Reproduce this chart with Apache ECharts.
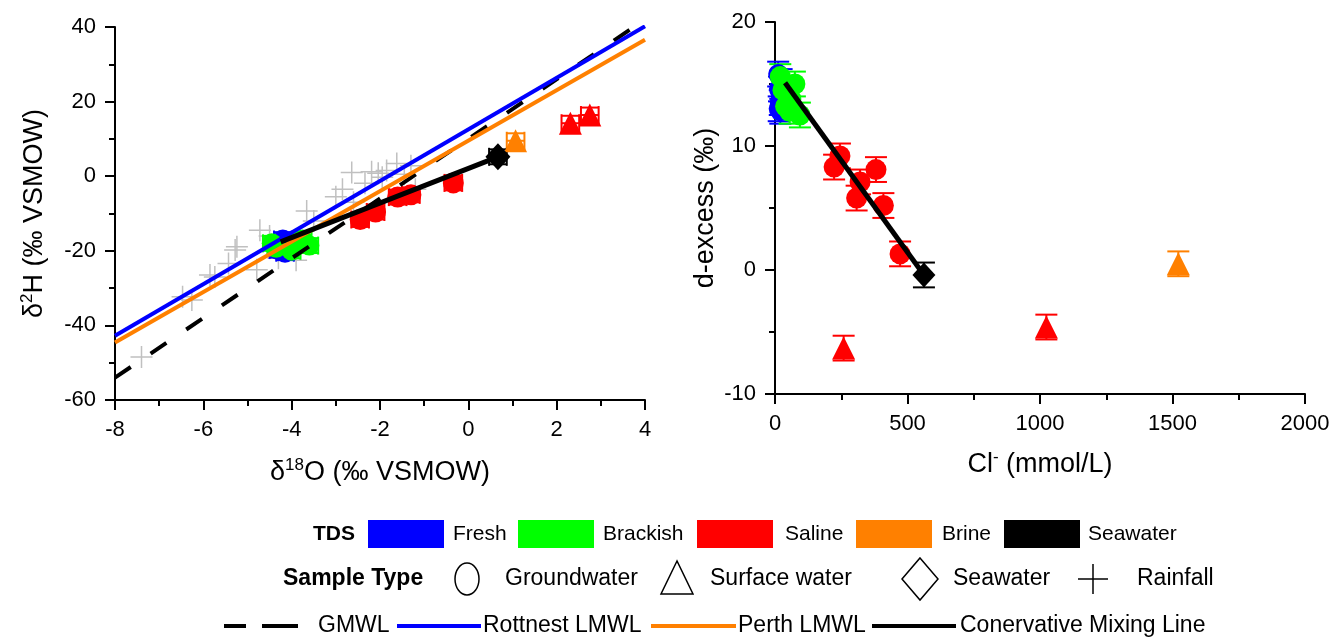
<!DOCTYPE html>
<html>
<head>
<meta charset="utf-8">
<script src="https://cdn.jsdelivr.net/npm/echarts@6.0.0/dist/echarts.min.js"></script>
<style>
  html, body { margin: 0; padding: 0; background: #fff; }
  #main { width: 1333px; height: 638px; }
</style>
</head>
<body>
<div id="main"></div>
<script>
// ---- left panel: [d18O, d2H] ----
var leftFresh = [[-4.25, -18.5], [-4.15, -20.5], [-4.05, -19], [-4.2, -17], [-4.3, -19.8]];
var leftBrackish = [[-4.45, -18], [-4.35, -19.2], [-3.9, -18], [-3.75, -17], [-3.6, -18.6], [-4.0, -20]];
var leftSalineGW = [[-2.45, -11.6], [-2.1, -9.6], [-1.6, -5.6], [-1.3, -5.0], [-0.34, -1.8]];
var leftSalineSW = [[2.31, 14.2], [2.75, 16.4]];
var leftBrineSW = [[1.07, 9.5]];
var leftSeawater = [[0.67, 5.2]];
var leftRain = [
  [-7.4, -48.5], [-6.47, -32.3], [-6.26, -33.2], [-5.85, -26.5], [-5.74, -27], [-5.43, -23.4],
  [-5.28, -19.8], [-5.24, -18.9], [-4.79, -25.1], [-4.72, -14.5], [-4.5, -16], [-4.3, -22],
  [-3.9, -22.5], [-3.66, -9.3], [-3.5, -12], [-3.0, -5.5], [-2.85, -3.5], [-2.64, 1.0],
  [-2.34, -1.9], [-2.19, 1.2], [-2.04, 0.8], [-1.95, -0.3], [-1.85, 1.5], [-1.62, 3.4],
  [-1.45, 0.5], [-1.3, 2.8], [-1.2, -3.5], [-2.6, -7]
];
var gmwl = [[-8, -54], [3.75, 40]];
var rottnestLmwl = [[-8, -42.8], [4, 40.2]];
var perthLmwl = [[-8, -44.6], [4, 36.6]];
var mixLeft = [[-4.25, -17.6], [0.67, 5.2]];
var leftErr = [0.2, 2];   // +/- d18O, +/- d2H

// ---- right panel: [Cl, d-excess] ----
var rightFresh = [[12, 15.8], [15, 14.6], [18, 13.5], [20, 12.8], [25, 15.2], [22, 14.0], [14, 13.0]];
var rightBrackish = [[30, 14.5], [40, 13.2], [55, 12.8], [20, 15.6], [75, 15.0], [94, 12.5], [60, 13.8]];
var rightSalineGW = [[223, 8.3], [245, 9.2], [308, 5.8], [321, 7.1], [381, 8.1], [409, 5.2], [472, 1.3]];
var rightSalineSW = [[259, -6.3], [1024, -4.6]];
var rightBrineSW = [[1522, 0.5]];
var rightSeawater = [[562, -0.4]];
var mixRight = [[38, 15.1], [562, -0.4]];
var rightErr = [0, 1];

var FONT = '"Liberation Sans", Arial, sans-serif';
var C = { fresh: '#0000ff', brackish: '#00ff00', saline: '#ff0000', brine: '#ff8000', sea: '#000000', rain: '#c0c0c0' };

function withErr(arr, err) {
  return arr.map(function (p) { return [p[0], p[1], err[0], err[1]]; });
}

function errRender(color, cap) {
  return function (params, api) {
    var x = api.value(0), y = api.value(1), ex = api.value(2), ey = api.value(3);
    var st = { stroke: color, lineWidth: 2 };
    var kids = [];
    if (ey) {
      var a = api.coord([x, y - ey]), b = api.coord([x, y + ey]);
      kids.push({ type: 'line', shape: { x1: a[0], y1: a[1], x2: b[0], y2: b[1] }, style: st });
      kids.push({ type: 'line', shape: { x1: a[0] - cap, y1: a[1], x2: a[0] + cap, y2: a[1] }, style: st });
      kids.push({ type: 'line', shape: { x1: b[0] - cap, y1: b[1], x2: b[0] + cap, y2: b[1] }, style: st });
    }
    if (ex) {
      var l = api.coord([x - ex, y]), r = api.coord([x + ex, y]);
      kids.push({ type: 'line', shape: { x1: l[0], y1: l[1], x2: r[0], y2: r[1] }, style: st });
      kids.push({ type: 'line', shape: { x1: l[0], y1: l[1] - cap, x2: l[0], y2: l[1] + cap }, style: st });
      kids.push({ type: 'line', shape: { x1: r[0], y1: r[1] - cap, x2: r[0], y2: r[1] + cap }, style: st });
    }
    return { type: 'group', children: kids };
  };
}

function errSeries(idx, arr, err, color, cap) {
  return {
    type: 'custom', xAxisIndex: idx, yAxisIndex: idx, z: 3,
    renderItem: errRender(color, cap), encode: { x: 0, y: 1 },
    data: withErr(arr, err), silent: true
  };
}

function pts(idx, arr, symbol, size, color, z) {
  return {
    type: 'scatter', xAxisIndex: idx, yAxisIndex: idx, symbol: symbol, symbolSize: size,
    itemStyle: { color: color, opacity: 1 }, data: arr, z: z || 4, silent: true
  };
}

function line(idx, arr, color, width, dash, z) {
  return {
    type: 'line', xAxisIndex: idx, yAxisIndex: idx, data: arr, showSymbol: false, symbol: 'none',
    lineStyle: { color: color, width: width, type: dash || 'solid' }, z: z || 5, silent: true
  };
}

var plusPath = 'path://M-0.75,-11h1.5v22h-1.5z M-11,-0.75h22v1.5h-22z';

function axisCommon() {
  return {
    type: 'value',
    axisLine: { show: true, onZero: false, lineStyle: { color: '#000', width: 2 } },
    axisTick: { show: true, length: 10, lineStyle: { color: '#000', width: 2 } },
    minorTick: { show: true, splitNumber: 2, length: 6, lineStyle: { color: '#000', width: 2 } },
    splitLine: { show: false },
    minorSplitLine: { show: false },
    axisLabel: { color: '#000', fontSize: 22, fontFamily: FONT, margin: 19,
      formatter: function (v) { return String(v); } },
    nameLocation: 'middle',
    nameTextStyle: {
      color: '#000', fontFamily: FONT, fontSize: 27,
      rich: {
        a: { fontSize: 27, fontFamily: FONT, color: '#000', lineHeight: 32 },
        s: { fontSize: 17, fontFamily: FONT, color: '#000', lineHeight: 17, verticalAlign: 'top' }
      }
    }
  };
}

function ax(extra) { return Object.assign(axisCommon(), extra); }

var series = [
  // left panel
  pts(0, leftRain, plusPath, 22, C.rain, 2),
  errSeries(0, leftFresh, leftErr, C.fresh, 9),
  pts(0, leftFresh, 'circle', 20, C.fresh),
  errSeries(0, leftBrackish, leftErr, C.brackish, 9),
  pts(0, leftBrackish, 'circle', 20, C.brackish),
  errSeries(0, leftSalineGW, leftErr, C.saline, 9),
  pts(0, leftSalineGW, 'circle', 21, C.saline),
  line(0, gmwl, '#000', 4, [19, 24], 5),
  line(0, rottnestLmwl, C.fresh, 4),
  line(0, perthLmwl, C.brine, 4),
  line(0, mixLeft, '#000', 5, 'solid', 6),
  errSeries(0, leftSalineSW, leftErr, C.saline, 9),
  pts(0, leftSalineSW, 'triangle', 23, C.saline, 7),
  errSeries(0, leftBrineSW, leftErr, C.brine, 9),
  pts(0, leftBrineSW, 'triangle', 23, C.brine, 7),
  errSeries(0, leftSeawater, leftErr, C.sea, 9),
  pts(0, leftSeawater, 'diamond', [25, 27], C.sea, 7),
  // right panel
  errSeries(1, rightFresh, rightErr, C.fresh, 11),
  pts(1, rightFresh, 'circle', 20, C.fresh),
  errSeries(1, rightBrackish, rightErr, C.brackish, 11),
  pts(1, rightBrackish, 'circle', 21, C.brackish),
  errSeries(1, rightSalineGW, rightErr, C.saline, 11),
  pts(1, rightSalineGW, 'circle', 21, C.saline),
  line(1, mixRight, '#000', 5, 'solid', 6),
  errSeries(1, rightSalineSW, rightErr, C.saline, 11),
  pts(1, rightSalineSW, 'triangle', 23, C.saline, 7),
  errSeries(1, rightBrineSW, rightErr, C.brine, 11),
  pts(1, rightBrineSW, 'triangle', 23, C.brine, 7),
  errSeries(1, rightSeawater, rightErr, C.sea, 11),
  pts(1, rightSeawater, 'diamond', [23, 25], C.sea, 7)
];

// ---- legend (drawn) ----
function txt(x, y, s, bold, size) {
  return { type: 'text', x: x, y: y, silent: true,
    style: { text: s, fill: '#000', font: (bold ? 'bold ' : '') + (size || 23) + 'px ' + FONT, verticalAlign: 'middle', align: 'left' } };
}
function rect(x, y, color) {
  return { type: 'rect', silent: true, shape: { x: x, y: y - 14, width: 76, height: 28 }, style: { fill: color } };
}
function hline(x1, x2, y, color) {
  return { type: 'line', silent: true, shape: { x1: x1, y1: y, x2: x2, y2: y }, style: { stroke: color, lineWidth: 4 } };
}
var r1 = 534, r2 = 579, r3 = 626;
var outline = { fill: 'none', stroke: '#000', lineWidth: 1.5 };
var graphics = [
  txt(313, r1, 'TDS', true, 21),
  rect(368, r1, C.fresh), txt(453, r1, 'Fresh', false, 21),
  rect(518, r1, C.brackish), txt(603, r1, 'Brackish', false, 21),
  rect(697, r1, C.saline), txt(785, r1, 'Saline', false, 21),
  rect(856, r1, C.brine), txt(942, r1, 'Brine', false, 21),
  rect(1004, r1, C.sea), txt(1088, r1, 'Seawater', false, 21),

  txt(283, r2, 'Sample Type', true, 23),
  { type: 'ellipse', silent: true, shape: { cx: 467, cy: r2, rx: 12, ry: 16 }, style: outline },
  txt(505, r2, 'Groundwater'),
  { type: 'polygon', silent: true, shape: { points: [[677, r2 - 18], [661, r2 + 15], [693, r2 + 15]] }, style: outline },
  txt(710, r2, 'Surface water'),
  { type: 'polygon', silent: true, shape: { points: [[920, r2 - 21], [938, r2], [920, r2 + 21], [902, r2]] }, style: outline },
  txt(953, r2, 'Seawater'),
  { type: 'line', silent: true, shape: { x1: 1078, y1: r2, x2: 1108, y2: r2 }, style: outline },
  { type: 'line', silent: true, shape: { x1: 1093, y1: r2 - 15, x2: 1093, y2: r2 + 15 }, style: outline },
  txt(1137, r2, 'Rainfall'),

  hline(224, 246, r3, '#000'), hline(262, 298, r3, '#000'), txt(318, r3, 'GMWL'),
  hline(397, 481, r3, C.fresh), txt(483, r3, 'Rottnest LMWL'),
  hline(651, 736, r3, C.brine), txt(738, r3, 'Perth LMWL'),
  hline(872, 956, r3, C.sea), txt(960, r3, 'Conervative Mixing Line')
];

var chart = echarts.init(document.getElementById('main'));
chart.setOption({
  animation: false,
  backgroundColor: '#fff',
  grid: [
    { left: 115, top: 27, width: 530, height: 373 },
    { left: 775, top: 22, width: 530, height: 372 }
  ],
  xAxis: [
    ax({ gridIndex: 0, min: -8, max: 4, interval: 2, name: '{a|δ}{s|18}{a|O (‰ VSMOW)}', nameGap: 57 }),
    ax({ gridIndex: 1, min: 0, max: 2000, interval: 500, name: '{a|Cl}{s|-}{a| (mmol/L)}', nameGap: 55 })
  ],
  yAxis: [
    ax({ gridIndex: 0, min: -60, max: 40, interval: 20, name: '{a|δ}{s|2}{a|H (‰ VSMOW)}', nameGap: 64 }),
    ax({ gridIndex: 1, min: -10, max: 20, interval: 10, name: '{a|d-excess (‰)}', nameGap: 53 })
  ],
  series: series,
  graphic: graphics
});
</script>
</body>
</html>
